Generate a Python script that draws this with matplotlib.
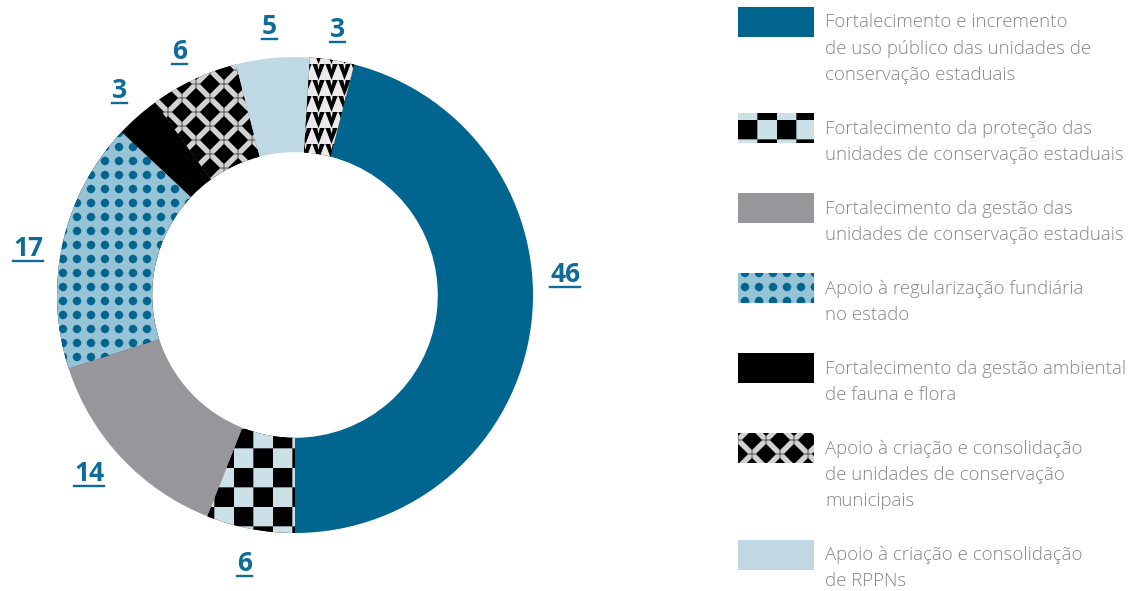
import numpy as np
import matplotlib.pyplot as plt
from matplotlib.colors import to_rgb
from matplotlib.lines import Line2D

plt.rcParams['font.family'] = ['Open Sans', 'DejaVu Sans']

# ================= Data =================
shares = [46, 6, 14, 17, 3, 6, 5, 3]
fills = ['blue', 'checker', 'gray', 'dots', 'black', 'diamonds', 'light', 'triangles']

legend_labels = [
    "Fortalecimento e incremento\nde uso público das unidades de\nconservação estaduais",
    "Fortalecimento da proteção das\nunidades de conservação estaduais",
    "Fortalecimento da gestão das\nunidades de conservação estaduais",
    "Apoio à regularização fundiária\nno estado",
    "Fortalecimento da gestão ambiental\nde fauna e flora",
    "Apoio à criação e consolidação\nde unidades de conservação\nmunicipais",
    "Apoio à criação e consolidação\nde RPPNs",
]
legend_fills = ['blue', 'checker', 'gray', 'dots', 'black', 'diamonds', 'light']

# ================= Style =================
W, H = 1132, 591
CX, CY, R = 295, 295, 238          # donut centre / outer radius in pixels
RING = 0.40
START_CW = 14.4                     # first wedge starts this many degrees clockwise from top

SOLID = {'blue': '#00658f', 'gray': '#97979b', 'black': '#000000', 'light': '#bfd9e4'}
CHECK_LIGHT = '#cde0e8'
DOT_BG, DOT_FG = '#96c3d6', '#00658f'
DIA_BAND, DIA_LINE = '#d2d2d2', '#1a1a1a'
TRI_BG = '#eaeaea'
LABEL_COLOR = '#0f6c98'
TEXT_COLOR = '#878787'

LABEL_R = 1.14
LABEL_SHIFT = [-12, 0, 2.5, -2.2, 1, 0, 0, 0]   # degrees, nudges off the mid-angle


def pattern_rgb(kind, px, py):
    img = np.zeros(px.shape + (3,))
    if kind in SOLID:
        img[:] = to_rgb(SOLID[kind])
    elif kind == 'checker':
        s = 19.5
        m = ((np.floor(px / s) + np.floor(py / s)) % 2) == 0
        img[:] = to_rgb(CHECK_LIGHT)
        img[m] = 0
    elif kind == 'dots':
        s = 14.0
        fx = np.mod(px, s) - s / 2
        fy = np.mod(py, s) - s / 2
        img[:] = to_rgb(DOT_BG)
        img[fx ** 2 + fy ** 2 < 4.2 ** 2] = to_rgb(DOT_FG)
    elif kind == 'diamonds':
        P = 28.0
        u = np.mod(px + py, P)
        v = np.mod(px - py, P)
        band = (np.minimum(u, P - u) < 3.7) | (np.minimum(v, P - v) < 3.7)
        hx = np.mod(px, P / 2)
        hy = np.mod(py, P / 2)
        thin = band & ((np.minimum(hx, P / 2 - hx) < 0.5) | (np.minimum(hy, P / 2 - hy) < 0.5))
        img[band] = to_rgb(DIA_BAND)
        img[thin] = to_rgb(DIA_LINE)
    elif kind == 'triangles':
        cw, ch = 13.0, 16.0
        fx = np.mod(px, cw) / cw - 0.5
        fy = np.mod(py, ch) / ch
        tri = (np.abs(fx) < 0.47 * (1 - fy)) & ~(np.abs(fx) < 0.3 * (0.35 - fy))
        img[:] = to_rgb(TRI_BG)
        img[tri] = 0
    return img


def render(kind, x0, y0, w, h, ss=3):
    """Supersampled pattern tile in pixel coordinates (y downward)."""
    px = x0 + (np.arange(w * ss) + 0.5) / ss
    py = y0 + (np.arange(h * ss) + 0.5) / ss
    PX, PY = np.meshgrid(px, py)
    img = pattern_rgb(kind, PX, PY)
    return img.reshape(h, ss, w, ss, 3).mean(axis=(1, 3))


fig = plt.figure(figsize=(W / 100, H / 100), dpi=100)

# ================= Donut =================
AW = 590
ax = fig.add_axes([0, 0, AW / W, 1])
base_colors = [SOLID.get(f, '#000000') for f in fills]
wedges, _ = ax.pie(shares, colors=base_colors, startangle=90 - START_CW, counterclock=False,
                   radius=1, wedgeprops=dict(width=RING, edgecolor='none', linewidth=0))

extent = (-CX / R, (AW - CX) / R, (CY - H) / R, CY / R)
for w, kind in zip(wedges, fills):
    if kind in SOLID:
        continue
    img = render(kind, 0, 0, AW, H)
    im = ax.imshow(img, extent=extent, origin='upper', interpolation='nearest', zorder=3)
    im.set_clip_path(w)

labels = []
cum = 0
for v, shift in zip(shares, LABEL_SHIFT):
    th = np.radians(START_CW + 3.6 * (cum + v / 2) + shift)
    cum += v
    x, y = LABEL_R * np.sin(th), LABEL_R * np.cos(th)
    t = ax.text(x, y - 9.5 / R, f"{v}", ha='center', va='baseline', fontsize=19,
                fontweight='bold', color=LABEL_COLOR, zorder=5)
    labels.append((t, y - 14.5 / R))

ax.set_xlim(extent[0], extent[1])
ax.set_ylim(extent[2], extent[3])
ax.set_aspect('equal')
ax.axis('off')

# ================= Legend =================
la = fig.add_axes([0, 0, 1, 1], zorder=-1)
la.set_xlim(0, W)
la.set_ylim(H, 0)
la.axis('off')

y = 22
for text, kind in zip(legend_labels, legend_fills):
    tile = render(kind, 0, -7, 76, 30)
    la.imshow(tile, extent=(738, 814, y + 15, y - 15), origin='upper',
              interpolation='nearest', aspect='auto')
    lines = text.split('\n')
    for i, ln in enumerate(lines):
        la.text(825, y + i * 26.5, ln, ha='left', va='center', fontsize=13.4,
                fontweight='light', color=TEXT_COLOR)
    y += len(lines) * 26.5 + 27
la.set_xlim(0, W)
la.set_ylim(H, 0)

# underline the value labels
fig.canvas.draw()
renderer = fig.canvas.get_renderer()
for t, yu in labels:
    bb = t.get_window_extent(renderer)
    yd = ax.transData.transform((0, yu))[1]
    fig.add_artist(Line2D([bb.x0 / W, bb.x1 / W], [yd / H, yd / H], color=LABEL_COLOR,
                          lw=1.7, transform=fig.transFigure))

fig.savefig('out.png', dpi=100)
